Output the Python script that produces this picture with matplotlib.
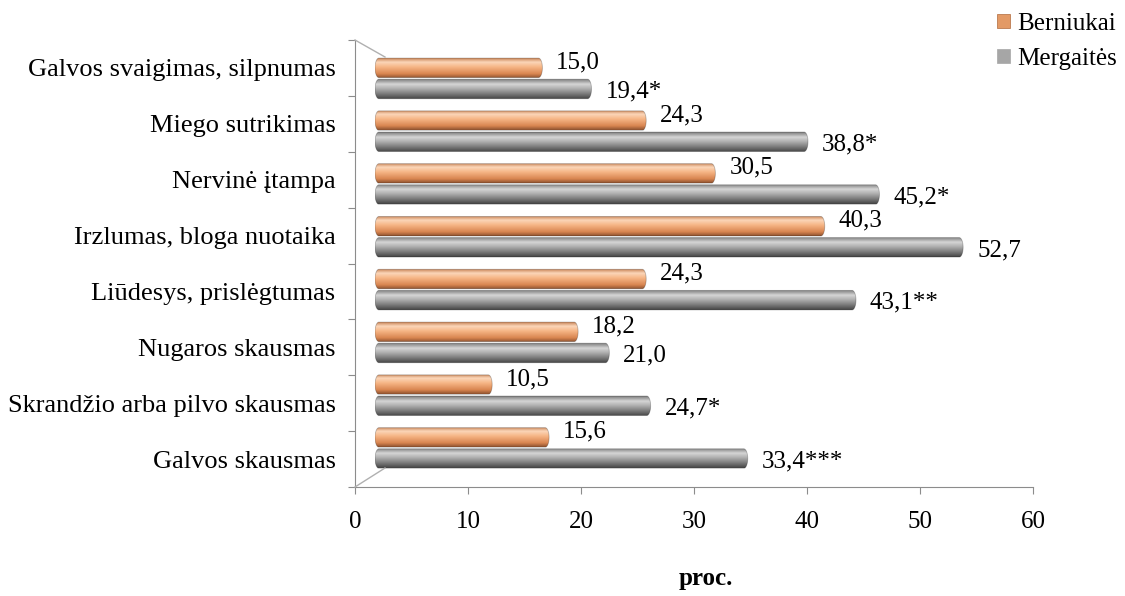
import numpy as np
import matplotlib.pyplot as plt
from matplotlib.path import Path
from matplotlib.patches import PathPatch, Patch
from matplotlib.colors import LinearSegmentedColormap
from matplotlib.lines import Line2D

plt.rcParams['font.family'] = ['Liberation Serif', 'DejaVu Serif']

categories = ["Galvos svaigimas, silpnumas", "Miego sutrikimas", "Nervinė įtampa",
              "Irzlumas, bloga nuotaika", "Liūdesys, prislėgtumas", "Nugaros skausmas",
              "Skrandžio arba pilvo skausmas", "Galvos skausmas"]
berniukai = [15.0, 24.3, 30.5, 40.3, 24.3, 18.2, 10.5, 15.6]
mergaites = [19.4, 38.8, 45.2, 52.7, 43.1, 21.0, 24.7, 33.4]
mergaites_zymes = ["*", "*", "*", "", "**", "", "*", "***"]
x_ticks = [0, 10, 20, 30, 40, 50, 60]

W, H = 1125, 596
fig = plt.figure(figsize=(W / 100, H / 100), dpi=100)


def px_box(x0, y0, x1, y1):
    return [x0 / W, 1 - y1 / H, (x1 - x0) / W, (y1 - y0) / H]


n = len(categories)
axis_col = '#8c8c8c'

# front frame: axes lines, ticks and labels
ax = fig.add_axes(px_box(355, 40, 1033, 487))
ax.set_xlim(0, 60)
ax.set_ylim(n, 0)
ax.set_xticks(x_ticks)
ax.set_xticklabels([str(t) for t in x_ticks], fontsize=18)
ax.set_yticks(np.arange(n + 1))
ax.set_yticklabels([])
ax.set_yticks(np.arange(n) + 0.5, minor=True)
ax.set_yticklabels(categories, minor=True, fontsize=19)
ax.tick_params(axis='y', which='minor', length=0, pad=14)
ax.tick_params(axis='y', which='major', length=5, color=axis_col)
ax.tick_params(axis='x', which='major', length=5, color=axis_col, pad=12)
for s in ['top', 'right']:
    ax.spines[s].set_visible(False)
for s in ['left', 'bottom']:
    ax.spines[s].set_color(axis_col)
ax.patch.set_alpha(0)

# side wall / floor edges
for y0, y1 in [(40, 57), (487, 468)]:
    fig.add_artist(Line2D([355 / W, 385 / W], [1 - y0 / H, 1 - y1 / H],
                          transform=fig.transFigure, color='#b0b0b0', lw=1))

fig.text(706 / W, 1 - 578 / H, 'proc.', ha='center', va='center',
         fontsize=18, fontweight='bold')

# back plane where the cylinders sit
bx = fig.add_axes(px_box(375, 52, 1044.6, 474.4))
bx.axis('off')

cmap_b = LinearSegmentedColormap.from_list('b', [
    (0.0, '#c98457'), (0.2, '#fbd6b8'), (0.45, '#f6b585'),
    (0.8, '#d88550'), (1.0, '#8e5230')])
cmap_m = LinearSegmentedColormap.from_list('m', [
    (0.0, '#7d7d7d'), (0.25, '#d6d6d6'), (0.5, '#ababab'),
    (0.8, '#6f6f6f'), (1.0, '#444444')])

grad = np.linspace(0, 1, 64).reshape(-1, 1)
bar_h = 0.37
rx = 0.35


def cylinder(y, length, cmap):
    ry = bar_h / 2
    t1 = np.linspace(np.pi / 2, 3 * np.pi / 2, 30)
    t2 = np.linspace(-np.pi / 2, np.pi / 2, 30)
    left = np.column_stack([rx + rx * np.cos(t1), y - ry * np.sin(t1)])
    right = np.column_stack([length - rx + rx * np.cos(t2), y - ry * np.sin(t2)])
    verts = np.vstack([left, right, left[:1]])
    codes = [Path.MOVETO] + [Path.LINETO] * (len(verts) - 2) + [Path.CLOSEPOLY]
    patch = PathPatch(Path(verts, codes), facecolor='none',
                      edgecolor=(0, 0, 0, 0.25), lw=0.6, zorder=3)
    bx.add_patch(patch)
    im = bx.imshow(grad, cmap=cmap, aspect='auto', origin='lower',
                   extent=(0, length, y - ry, y + ry), zorder=2)
    im.set_clip_path(patch)


for i in range(n):
    yb = i - 0.2
    ym = i + 0.2
    cylinder(yb, berniukai[i], cmap_b)
    cylinder(ym, mergaites[i], cmap_m)
    bx.annotate(f"{berniukai[i]:.1f}".replace('.', ','), xy=(berniukai[i], yb),
                xytext=(10, 4), textcoords='offset points',
                ha='left', va='center', fontsize=18)
    bx.annotate(f"{mergaites[i]:.1f}".replace('.', ',') + mergaites_zymes[i],
                xy=(mergaites[i], ym), xytext=(10, -2), textcoords='offset points',
                ha='left', va='center', fontsize=18)

bx.set_xlim(0, 60)
bx.set_ylim(n - 0.5, -0.5)

fig.legend(handles=[Patch(facecolor='#e39a66', edgecolor='#b06a3c', lw=0.5),
                    Patch(facecolor='#a6a6a6', edgecolor='#a6a6a6', lw=0.5)],
           labels=['Berniukai', 'Mergaitės'], loc='upper right',
           bbox_to_anchor=(1122 / W, 1 - 8 / H), frameon=False, fontsize=18,
           handlelength=0.5, handleheight=0.5, handletextpad=0.3,
           labelspacing=0.5, borderaxespad=0, borderpad=0.2)

fig.savefig('out.png', dpi=100)
